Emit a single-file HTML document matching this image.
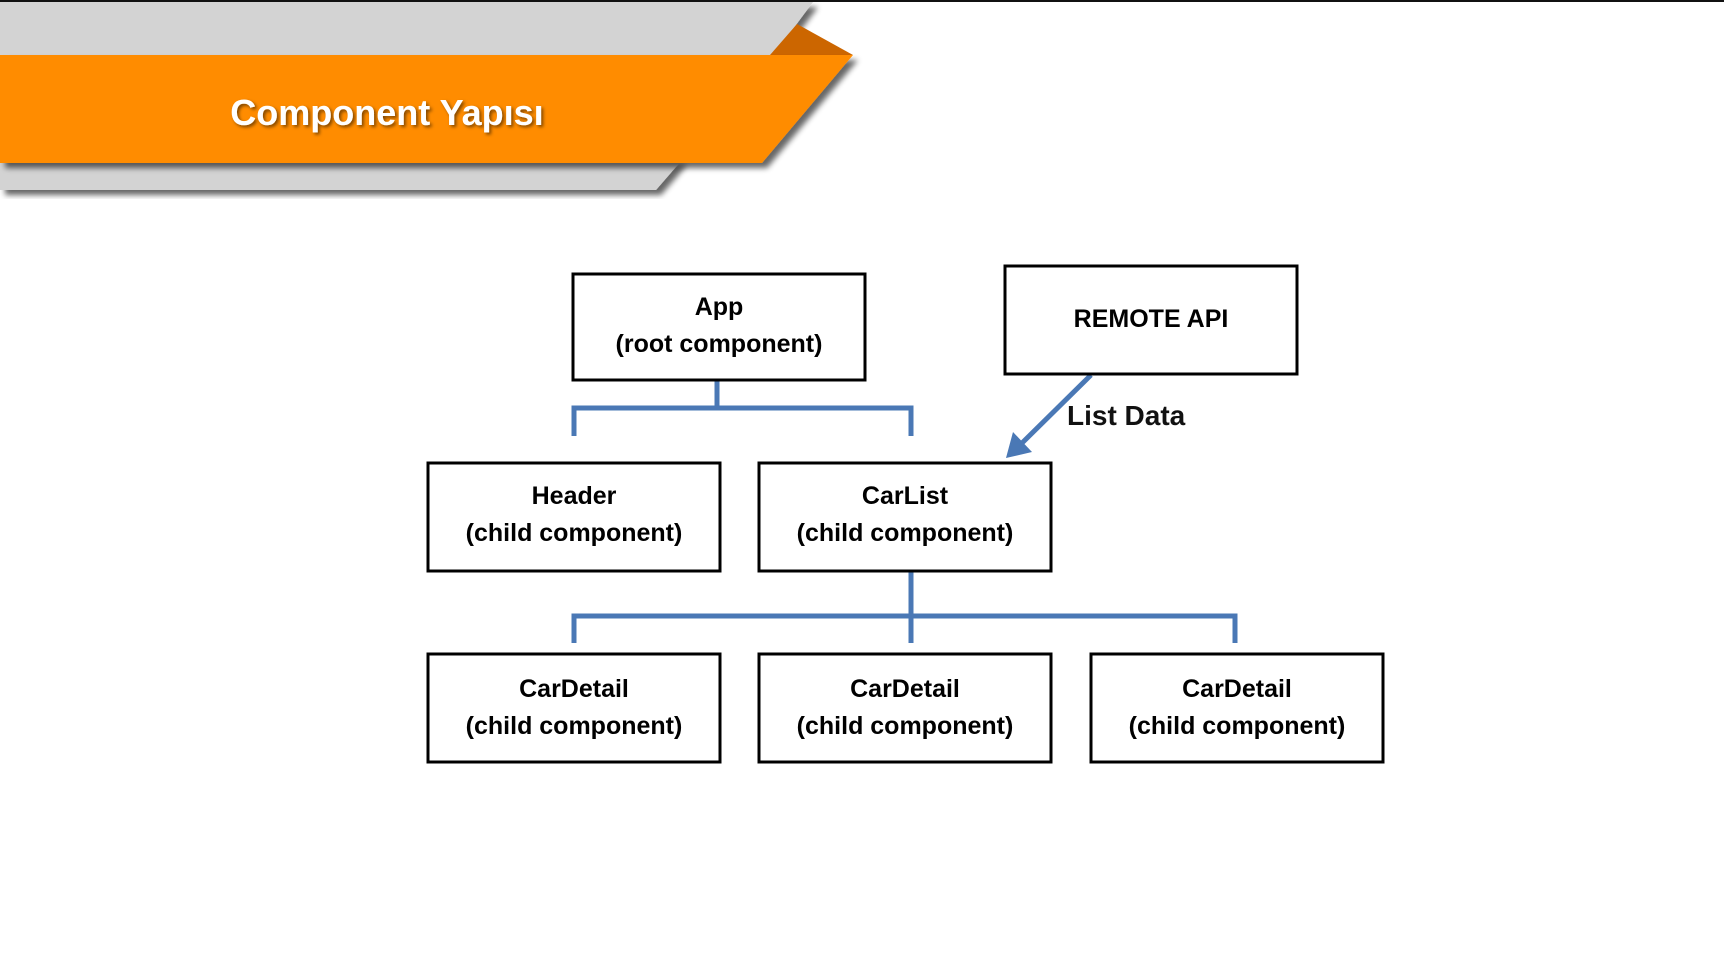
<!DOCTYPE html>
<html><head><meta charset="utf-8"><style>
html,body{margin:0;padding:0;background:#fff;}
svg{display:block;}
</style></head><body>
<svg width="1724" height="965" viewBox="0 0 1724 965" xmlns="http://www.w3.org/2000/svg">
<defs>
<filter id="sh" x="-10%" y="-10%" width="130%" height="140%"><feGaussianBlur in="SourceAlpha" stdDeviation="3"/><feOffset dx="5" dy="5"/><feComponentTransfer><feFuncA type="linear" slope="0.6"/></feComponentTransfer><feMerge><feMergeNode/><feMergeNode in="SourceGraphic"/></feMerge></filter>
<filter id="ts"><feDropShadow dx="2" dy="2" stdDeviation="1.5" flood-color="#000" flood-opacity="0.5"/></filter>
</defs>
<rect x="0" y="0" width="1724" height="2" fill="#111"/>
<polygon points="0,2 813,2 770,60 0,60" fill="#d3d3d3" filter="url(#sh)"/>
<polygon points="0,160 682,160 656,190 0,190" fill="#d3d3d3" filter="url(#sh)"/>
<polygon points="770,55 797,24 853,55" fill="#cc6600"/>
<polygon points="0,55 853,55 762,163 0,163" fill="#ff8c00" filter="url(#sh)"/>
<text x="387" y="125" text-anchor="middle" font-family="Liberation Sans, sans-serif" font-weight="bold" font-size="36" fill="#fff" filter="url(#ts)">Component Yapısı</text>

<g fill="none" stroke="#4a78b5" stroke-width="5">
<path d="M717,380 V408 M574,436 V408 H911 V436"/>
<path d="M911,571 V643 M574,643 V616 H1235 V643"/>
<line x1="1091" y1="375" x2="1020" y2="445"/>
</g>
<polygon points="1006,458 1013,432 1032,452" fill="#4a78b5"/>
<text x="1067" y="425" font-family="Liberation Sans, sans-serif" font-weight="bold" font-size="28" fill="#111">List Data</text>

<g fill="#fff" stroke="#000" stroke-width="3">
<rect x="573" y="274" width="292" height="106"/>
<rect x="1005" y="266" width="292" height="108"/>
<rect x="428" y="463" width="292" height="108"/>
<rect x="759" y="463" width="292" height="108"/>
<rect x="428" y="654" width="292" height="108"/>
<rect x="759" y="654" width="292" height="108"/>
<rect x="1091" y="654" width="292" height="108"/>
</g>
<g font-family="Liberation Sans, sans-serif" font-weight="bold" font-size="25" fill="#000" text-anchor="middle">
<text x="719" y="315">App</text><text x="719" y="352">(root component)</text>
<text x="1151" y="327">REMOTE API</text>
<text x="574" y="504">Header</text><text x="574" y="541">(child component)</text>
<text x="905" y="504">CarList</text><text x="905" y="541">(child component)</text>
<text x="574" y="697">CarDetail</text><text x="574" y="734">(child component)</text>
<text x="905" y="697">CarDetail</text><text x="905" y="734">(child component)</text>
<text x="1237" y="697">CarDetail</text><text x="1237" y="734">(child component)</text>
</g>
</svg>
</body></html>
